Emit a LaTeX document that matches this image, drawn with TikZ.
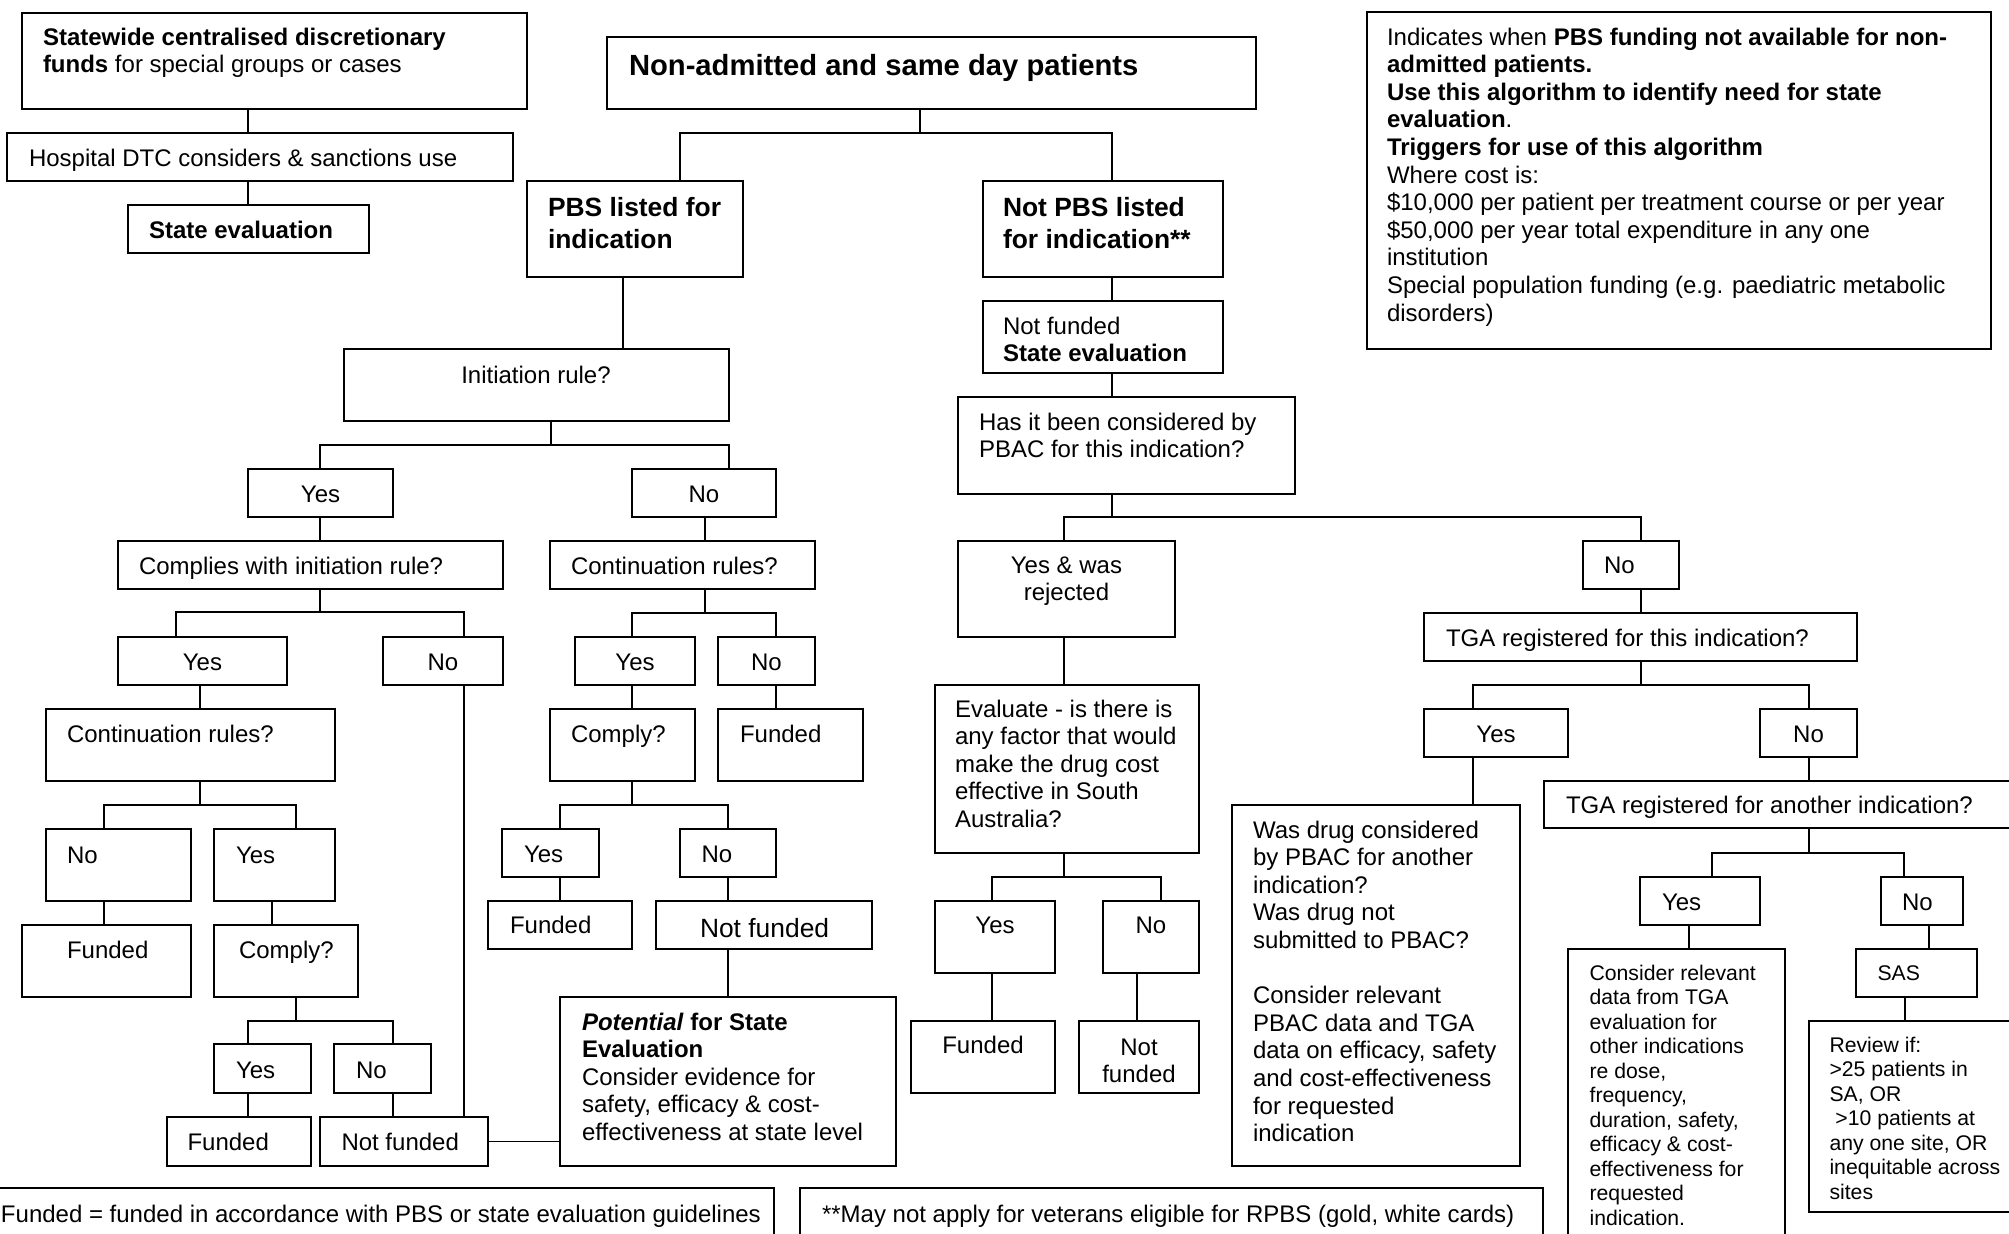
\documentclass[tikz,border=0pt]{standalone}
\usepackage{fontspec}
\setmainfont{Liberation Sans}
\usetikzlibrary{calc}
\newcommand\fN{\fontsize{12pt}{13.8pt}\selectfont}
\newcommand\fS{\fontsize{10.6pt}{12.25pt}\selectfont}
\newcommand\fM{\fontsize{13.2pt}{16pt}\selectfont}
\newcommand\fL{\fontsize{14.6pt}{16.8pt}\selectfont}
\newcommand\sA{\rule{0pt}{9pt}}
\newcommand\sB{\rule{0pt}{10pt}}
\newcommand\sC{\rule{0pt}{11pt}}
\newcommand\sD{\rule{0pt}{8pt}}
\tikzset{
  bx/.style={draw, line width=0.9pt, inner sep=0pt, outer sep=0pt, rectangle},
  ln/.style={line width=0.9pt},
  tl/.style={anchor=north west, inner sep=0pt, outer sep=0pt, align=left, font=\fN},
  tcn/.style={anchor=north, inner sep=0pt, outer sep=0pt, align=center, font=\fN},
}
\newcommand\mkbox[5]{\node[bx, minimum width={(#4-(#2))*0.5pt}, minimum height={(#5-(#3))*0.5pt}] (#1) at ({(#2+#4)/2},{(#3+#5)/2}) {};}
\newcommand\vl[4]{\draw[ln] ($(#1.south west)+(#2,0)$) -- ($(#3.north west)+(#4,0)$);}
\newcommand\fk[7]{\draw[ln] ($(#1.south west)+(#2,0)$) -- ++(0,#3) coordinate (#1-j);
  \draw[ln] ($(#4.north west)+(#5,0)$) |- (#1-j) -| ($(#6.north west)+(#7,0)$);}
\begin{document}
\begin{tikzpicture}[x=0.5pt,y=-0.5pt]
\useasboundingbox (0,0) rectangle (2009,1233);
\clip (0,0) rectangle (2009,1233);
\fill[white] (0,0) rectangle (2009,1233);
% boxes
\mkbox{sw}{22}{13}{527}{109}
\mkbox{dtc}{7}{133}{513}{181}
\mkbox{sev}{128}{205}{369}{253}
\mkbox{top}{607}{37}{1256}{109}
\mkbox{pbs}{527}{181}{743}{277}
\mkbox{npbs}{983}{181}{1223}{277}
\mkbox{nfse}{983}{301}{1223}{373}
\mkbox{has}{958}{397}{1295}{494}
\mkbox{info}{1367}{12}{1991}{349}
\mkbox{init}{344}{349}{729}{421}
\mkbox{yes1}{248}{469}{393}{517}
\mkbox{no1}{632}{469}{776}{517}
\mkbox{cwi}{118}{541}{503}{589}
\mkbox{cr2}{550}{541}{815}{589}
\mkbox{yes2}{118}{637}{287}{685}
\mkbox{no2}{383}{637}{503}{685}
\mkbox{yes5}{575}{637}{695}{685}
\mkbox{no5}{718}{637}{815}{685}
\mkbox{cr1}{46}{709}{335}{781}
\mkbox{comply2}{550}{709}{695}{781}
\mkbox{fund3}{718}{709}{863}{781}
\mkbox{no3}{46}{829}{191}{901}
\mkbox{yes3}{214}{829}{335}{901}
\mkbox{yes6}{502}{829}{599}{877}
\mkbox{no6}{680}{829}{776}{877}
\mkbox{fund1}{22}{925}{191}{997}
\mkbox{comply1}{214}{925}{358}{997}
\mkbox{fund4}{488}{901}{632}{949}
\mkbox{nf2}{656}{901}{872}{949}
\mkbox{pot}{560}{997}{896}{1166}
\mkbox{yes4}{214}{1044}{311}{1093}
\mkbox{no4}{334}{1044}{431}{1093}
\mkbox{fund2}{167}{1117}{311}{1166}
\mkbox{nf1}{320}{1117}{488}{1166}
\mkbox{ywr}{958}{541}{1175}{637}
\mkbox{eval}{935}{685}{1199}{853}
\mkbox{yes7}{935}{901}{1055}{973}
\mkbox{no7}{1103}{901}{1199}{973}
\mkbox{fund5}{911}{1021}{1055}{1093}
\mkbox{nf3}{1079}{1021}{1199}{1093}
\mkbox{no8}{1583}{541}{1679}{589}
\mkbox{tga1}{1424}{613}{1857}{661}
\mkbox{yes8}{1424}{709}{1568}{757}
\mkbox{no9}{1760}{709}{1857}{757}
\mkbox{wasd}{1232}{805}{1520}{1166}
\mkbox{tga2}{1544}{781}{2030}{828}
\mkbox{yes9}{1640}{877}{1760}{925}
\mkbox{no10}{1881}{877}{1963}{925}
\mkbox{crel}{1568}{949}{1785}{1260}
\mkbox{sas}{1856}{949}{1977}{997}
\mkbox{rev}{1809}{1021}{2030}{1212}
\mkbox{fn1}{-20}{1188}{774}{1260}
\mkbox{fn2}{800}{1188}{1543}{1260}
% connectors
\vl{sw}{226}{dtc}{241}
\vl{dtc}{241}{sev}{120}
\fk{top}{313}{24}{pbs}{153}{npbs}{129}
\vl{pbs}{96}{init}{279}
\vl{npbs}{129}{nfse}{129}
\vl{nfse}{129}{has}{154}
\fk{init}{207}{24}{yes1}{72}{no1}{97}
\vl{yes1}{72}{cwi}{202}
\vl{no1}{73}{cr2}{155}
\fk{cwi}{202}{23}{yes2}{58}{no2}{81}
\vl{yes2}{82}{cr1}{154}
\vl{no2}{81}{nf1}{144}
\fk{cr1}{154}{24}{no3}{58}{yes3}{82}
\vl{no3}{58}{fund1}{82}
\vl{yes3}{58}{comply1}{58}
\fk{comply1}{82}{24}{yes4}{34}{no4}{59}
\vl{yes4}{34}{fund2}{81}
\vl{no4}{59}{nf1}{73}
\draw[ln] (nf1.east) -- (nf1.east -| pot.west);
\fk{cr2}{155}{24}{yes5}{57}{no5}{58}
\vl{yes5}{57}{comply2}{82}
\vl{no5}{58}{fund3}{58}
\fk{comply2}{82}{24}{yes6}{58}{no6}{48}
\vl{yes6}{58}{fund4}{72}
\vl{no6}{48}{nf2}{72}
\vl{nf2}{72}{pot}{168}
\fk{has}{154}{23}{ywr}{106}{no8}{58}
\vl{ywr}{106}{eval}{129}
\fk{eval}{129}{24}{yes7}{57}{no7}{58}
\vl{yes7}{57}{fund5}{81}
\vl{no7}{34}{nf3}{58}
\vl{no8}{58}{tga1}{217}
\fk{tga1}{217}{24}{yes8}{49}{no9}{49}
\vl{yes8}{49}{wasd}{241}
\vl{no9}{49}{tga2}{265}
\fk{tga2}{265}{25}{yes9}{72}{no10}{23}
\vl{yes9}{49}{crel}{121}
\vl{no10}{48}{sas}{73}
\vl{sas}{49}{rev}{96}
% texts
\node[tl] (t-sw) at (43,27) {\sA\textbf{Statewide centralised discretionary}\\\textbf{funds} for special groups or cases};
\node[tl] (t-dtc) at (29,148) {\sA Hospital DTC considers \& sanctions use};
\node[tl] (t-sev) at (149,220) {\sA\textbf{State evaluation}};
\node[tl, font=\fL\bfseries] (t-top) at (629,53) {\sC Non-admitted and same day patients};
\node[tl, font=\fM\bfseries] (t-pbs) at (548,196) {\sB PBS listed for\\indication};
\node[tl, font=\fM\bfseries] (t-npbs) at (1003,196) {\sB Not PBS listed\\for indication**};
\node[tl] (t-nfse) at (1003,316) {\sA Not funded\\\textbf{State evaluation}};
\node[tl] (t-has) at (979,412) {\sA Has it been considered by\\PBAC for this indication?};
\node[tl] (t-info) at (1387,27) {\sA Indicates when \textbf{PBS funding not available for non-}\\
\textbf{admitted patients.}\\
\textbf{Use this algorithm to identify need for state}\\
\textbf{evaluation}.\\
\textbf{Triggers for use of this algorithm}\\
Where cost is:\\
\$10,000 per patient per treatment course or per year\\
\$50,000 per year total expenditure in any one\\
institution\\
Special population funding (e.g. paediatric metabolic\\
disorders)};
\node[tcn] (t-init) at (536,365) {\sA Initiation rule?};
\node[tcn] (t-yes1) at (320.5,484) {\sA Yes};
\node[tcn] (t-no1) at (704,484) {\sA No};
\node[tl] (t-cwi) at (139,556) {\sA Complies with initiation rule?};
\node[tl] (t-cr2) at (571,556) {\sA Continuation rules?};
\node[tcn] (t-yes2) at (202.5,652) {\sA Yes};
\node[tcn] (t-no2) at (443,652) {\sA No};
\node[tcn] (t-yes5) at (635,652) {\sA Yes};
\node[tcn] (t-no5) at (766.5,652) {\sA No};
\node[tl] (t-cr1) at (67,724) {\sA Continuation rules?};
\node[tl] (t-comply2) at (571,724) {\sA Comply?};
\node[tl] (t-fund3) at (740,724) {\sA Funded};
\node[tl] (t-no3) at (67,845) {\sA No};
\node[tl] (t-yes3) at (236,845) {\sA Yes};
\node[tl] (t-yes6) at (524,844) {\sA Yes};
\node[tl] (t-no6) at (701.5,844) {\sA No};
\node[tl] (t-fund1) at (67,940) {\sA Funded};
\node[tl] (t-comply1) at (239,940) {\sA Comply?};
\node[tl] (t-fund4) at (510,915) {\sA Funded};
\node[tl, font=\fM] (t-nf2) at (700,917) {\sB Not funded};
\node[tl] (t-pot) at (582,1012) {\sA\textbf{\textit{Potential} for State}\\\textbf{Evaluation}\\Consider evidence for\\safety, efficacy \& cost-\\effectiveness at state level};
\node[tl] (t-yes4) at (236,1060) {\sA Yes};
\node[tl] (t-no4) at (356,1060) {\sA No};
\node[tl] (t-fund2) at (187.5,1132) {\sA Funded};
\node[tl] (t-nf1) at (341.5,1132) {\sA Not funded};
\node[tcn] (t-ywr) at (1066.5,555) {\sA Yes \& was\\rejected};
\node[tl] (t-eval) at (955,699) {\sA Evaluate - is there is\\any factor that would\\make the drug cost\\effective in South\\Australia?};
\node[tcn] (t-yes7) at (995,915) {\sA Yes};
\node[tcn] (t-no7) at (1151,915) {\sA No};
\node[tcn] (t-fund5) at (983,1035) {\sA Funded};
\node[tcn] (t-nf3) at (1139,1037) {\sA Not\\funded};
\node[tl] (t-no8) at (1604,555) {\sA No};
\node[tl] (t-tga1) at (1446,628) {\sA TGA registered for this indication?};
\node[tcn] (t-yes8) at (1496,724) {\sA Yes};
\node[tcn] (t-no9) at (1808.5,724) {\sA No};
\node[tl] (t-wasd) at (1253,820) {\sA Was drug considered\\by PBAC for another\\indication?\\Was drug not\\submitted to PBAC?\\[13.8pt]Consider relevant\\PBAC data and TGA\\data on efficacy, safety\\and cost-effectiveness\\for requested\\indication};
\node[tl] (t-tga2) at (1566,795) {\sA TGA registered for another indication?};
\node[tl] (t-yes9) at (1662,892) {\sA Yes};
\node[tl] (t-no10) at (1902,892) {\sA No};
\node[tl, font=\fS] (t-sas) at (1877.5,964) {\sD SAS};
\node[tl, font=\fS] (t-rev) at (1829.5,1036) {\sD Review if:\\>25 patients in\\SA, OR\\\hspace*{0.28em}>10 patients at\\any one site, OR\\inequitable across\\sites};
\node[tl, font=\fS] (t-crel) at (1589.6,964) {\sD Consider relevant\\data from TGA\\evaluation for\\other indications\\re dose,\\frequency,\\duration, safety,\\efficacy \& cost-\\effectiveness for\\requested\\indication.};
\node[tl] (t-fn1) at (1,1204) {\sA Funded = funded in accordance with PBS or state evaluation guidelines};
\node[tl] (t-fn2) at (822,1204) {\sA **May not apply for veterans eligible for RPBS (gold, white cards)};
\end{tikzpicture}
\end{document}
